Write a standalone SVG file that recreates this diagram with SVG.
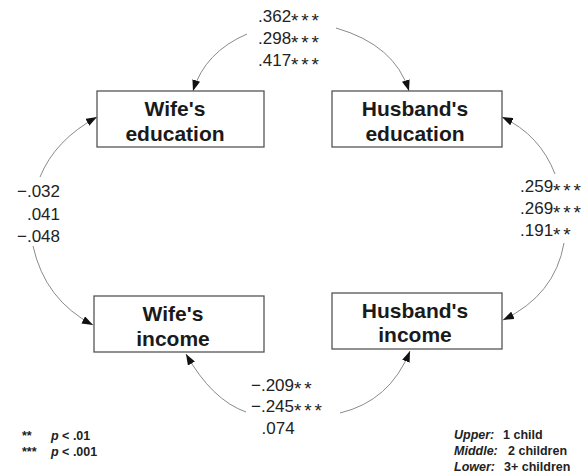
<svg xmlns="http://www.w3.org/2000/svg" width="587" height="475" viewBox="0 0 587 475">
<style>
.box{fill:#fff;stroke:#555;stroke-width:1.3}
.bt{font-family:"Liberation Sans",Arial,sans-serif;font-weight:bold;font-size:21px;fill:#1a1a1a;text-anchor:middle}
.num{font-family:"Liberation Sans",Arial,sans-serif;font-size:17px;fill:#222}
.st{font-size:19px;letter-spacing:2.8px}
.conn{fill:none;stroke:#8a8a8a;stroke-width:1;marker-start:url(#ah);marker-end:url(#ah)}
.leg{font-family:"Liberation Sans",Arial,sans-serif;font-weight:bold;font-size:12.5px;fill:#222}
.it{font-style:italic}
</style>
<defs>
<marker id="ah" viewBox="0 0 11 8" refX="11" refY="4" markerWidth="11" markerHeight="8" markerUnits="userSpaceOnUse" orient="auto-start-reverse">
<path d="M0,0 L11,4 L0,8 z" fill="#111"/>
</marker>
</defs>
<g id="connectors">
<path class="conn" d="M193,91 Q205,52 247,34 M336,28 Q395,45 409,91"/>
<path class="conn" d="M97,117 Q55,140 40,177 M33,246 Q45,300 93,325"/>
<path class="conn" d="M502,117 Q540,135 555,174 M564,243 Q555,295 503,320"/>
<path class="conn" d="M186,354 Q212,400 246,412 M340,413 Q390,401 410,351"/>
</g>
<g id="wife-education">
<rect class="box" x="97" y="91" width="167" height="56"/>
<text class="bt" x="175" y="116">Wife's</text>
<text class="bt" x="175" y="141">education</text>
</g>
<g id="husband-education">
<rect class="box" x="332" y="91" width="170" height="56"/>
<text class="bt" x="415" y="116">Husband's</text>
<text class="bt" x="415" y="141">education</text>
</g>
<g id="wife-income">
<rect class="box" x="94" y="296" width="170" height="56"/>
<text class="bt" x="173" y="321">Wife's</text>
<text class="bt" x="173" y="346">income</text>
</g>
<g id="husband-income">
<rect class="box" x="332" y="293" width="170" height="56"/>
<text class="bt" x="415" y="318">Husband's</text>
<text class="bt" x="415" y="342">income</text>
</g>
<g id="labels-top">
<text class="num" x="258" y="22">.362<tspan class="st" dy="4.5">***</tspan></text>
<text class="num" x="258" y="44">.298<tspan class="st" dy="4.5">***</tspan></text>
<text class="num" x="258" y="66">.417<tspan class="st" dy="4.5">***</tspan></text>
</g>
<g id="labels-left">
<text class="num" x="60" y="197" text-anchor="end">−.032</text>
<text class="num" x="60" y="219.5" text-anchor="end">.041</text>
<text class="num" x="60" y="242" text-anchor="end">−.048</text>
</g>
<g id="labels-right">
<text class="num" x="520" y="192">.259<tspan class="st" dy="4.5">***</tspan></text>
<text class="num" x="520" y="214">.269<tspan class="st" dy="4.5">***</tspan></text>
<text class="num" x="520" y="236">.191<tspan class="st" dy="4.5">**</tspan></text>
</g>
<g id="labels-bottom">
<text class="num" x="251" y="390.5">−.209<tspan class="st" dy="4.5">**</tspan></text>
<text class="num" x="251" y="412">−.245<tspan class="st" dy="4.5">***</tspan></text>
<text class="num" x="261.5" y="433.5">.074</text>
</g>
<g id="legend-p">
<text class="leg" x="22" y="440">**<tspan x="51" class="it">p</tspan> &lt; .01</text>
<text class="leg" x="22" y="456">***<tspan x="51" class="it">p</tspan> &lt; .001</text>
</g>
<g id="legend-children">
<text class="leg" x="454" y="439"><tspan class="it">Upper:</tspan><tspan x="503">1 child</tspan></text>
<text class="leg" x="454" y="455"><tspan class="it">Middle:</tspan><tspan x="508">2 children</tspan></text>
<text class="leg" x="454" y="471"><tspan class="it">Lower:</tspan><tspan x="504">3+ children</tspan></text>
</g>
</svg>
